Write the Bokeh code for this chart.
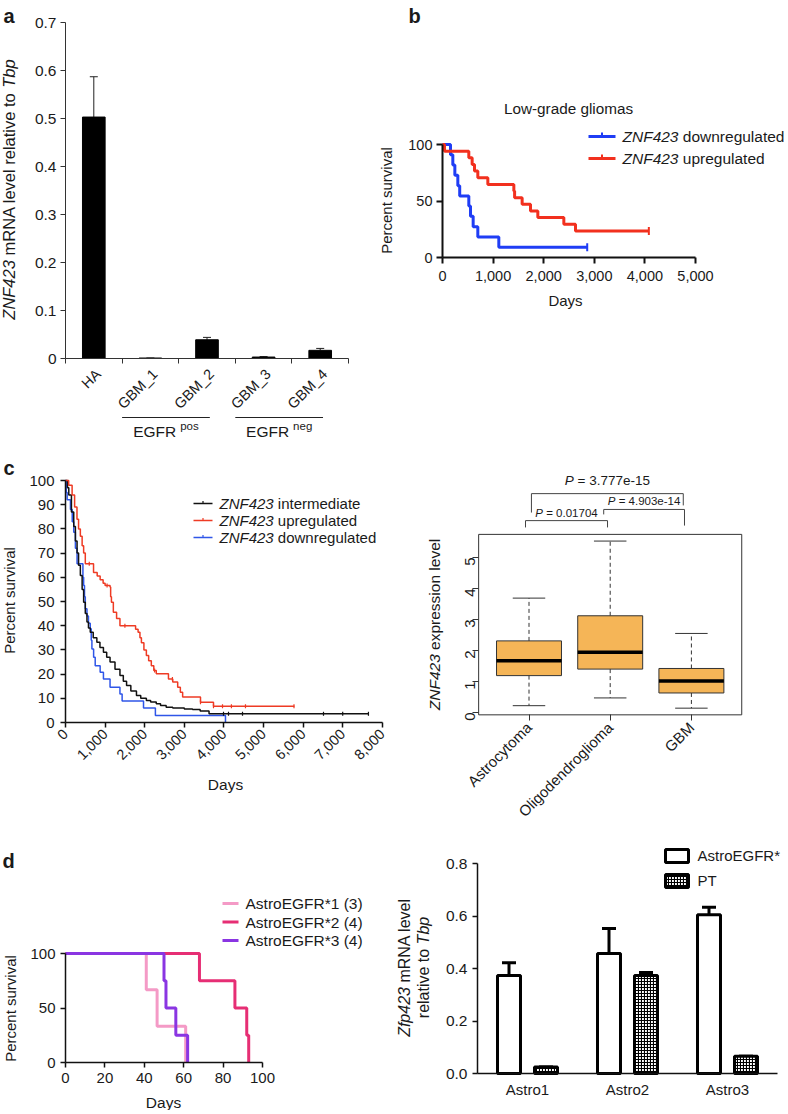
import math
from bokeh.plotting import figure
from bokeh.layouts import column, row
from bokeh.models import (Range1d, FixedTicker, Label, Whisker, TeeHead,
                          ColumnDataSource, NumeralTickFormatter)
from bokeh.embed import file_html
from bokeh.resources import INLINE

FONT = "Liberation Sans"
INK = "#1a1a1a"

# ===================== data =====================
# panel a
a_categories = ["HA", "GBM_1", "GBM_2", "GBM_3", "GBM_4"]
a_values = [0.503, 0.001, 0.039, 0.003, 0.017]
a_upper = [0.587, 0.001, 0.044, 0.004, 0.021]
a_yticks = [0, 0.1, 0.2, 0.3, 0.4, 0.5, 0.6, 0.7]
a_group_names = ["pos", "neg"]
a_group_members = [(1, 2), (3, 4)]

# panel b
b_down_days = [0, 158, 204, 244, 303, 340, 520, 553, 606, 698, 1113, 2860]
b_down_surv = [100, 90.9, 81.8, 72.7, 63.6, 54.5, 45.5, 36.4, 27.3, 18.2, 9.1, 9.1]
b_up_days = [0, 40, 520, 586, 632, 698, 896, 1410, 1425, 1574, 1739, 1884, 2398, 2628, 4078]
b_up_surv = [100, 94.1, 88.2, 82.4, 76.5, 70.6, 64.7, 58.8, 52.9, 47.1, 41.2, 35.3, 29.4, 23.5, 23.5]
b_series = ["downregulated", "upregulated"]
b_xticks = [0, 1000, 2000, 3000, 4000, 5000]
b_yticks = [0, 50, 100]

# panel c (survival)
c_mid_days = [0, 50, 83, 150, 208, 250, 292, 330, 375, 420, 458, 500, 542, 580, 625, 700, 792, 870, 958, 1040,
              1125, 1250, 1375, 1460, 1542, 1650, 1792, 1900, 2042, 2150, 2292, 2400, 2542, 2708, 3000, 3208, 3400,
              3625, 7650]
c_mid_surv = [100, 97, 94, 87, 81, 75, 70, 65, 60.7, 55, 49.7, 45, 41.5, 39, 37.3, 35, 33.2, 31, 29, 27,
              25, 22, 19.4, 17, 15.3, 13, 11.2, 10, 9.1, 8.5, 7.7, 7, 6.3, 6, 5.6, 5.4, 4.8, 3.6, 3.6]
c_up_days = [0, 80, 167, 230, 290, 330, 375, 420, 458, 500, 708, 800, 875, 950, 1000, 1125, 1140, 1160, 1208, 1290,
             1375, 1770, 1833, 1880, 1917, 1980, 2042, 2100, 2167, 2230, 2292, 2600, 2708, 2833, 2900, 2958, 3409,
             3737, 5780]
c_up_surv = [100, 98, 94, 89, 84, 80, 77, 73, 70, 65.6, 62, 60.5, 59, 57.5, 56.6, 56, 52, 49.7, 45.6, 43,
             40, 38.5, 37.3, 35, 33, 30, 27.7, 25.5, 23.5, 21.5, 20.1, 18, 16.7, 14.6, 12.5, 10.5, 8.4, 6.7, 6.7]
c_down_days = [0, 20, 42, 125, 170, 208, 250, 292, 440, 458, 480, 500, 542, 580, 625, 650, 667, 710, 750, 875,
               958, 1125, 1375, 1430, 1970, 2270, 4040]
c_down_surv = [100, 95, 92, 88, 83, 78.6, 72, 65.6, 60, 56.6, 52, 47, 44, 41, 38.7, 34, 30.4, 27, 23.5, 20.8,
               18, 14.6, 11.8, 8.9, 6.0, 2.9, 0]
c_up_censor = [600, 1050, 1500, 2250, 2700, 3409, 3737, 3965, 4190, 4545, 5770]
c_mid_censor = [3990, 4116, 4470, 6515, 7000, 7650]
c_series = ["intermediate", "upregulated", "downregulated"]
c_xticks = [0, 1000, 2000, 3000, 4000, 5000, 6000, 7000, 8000]
c_yticks = [0, 10, 20, 30, 40, 50, 60, 70, 80, 90, 100]

# panel c (box plot)
c_box_groups = ["Astrocytoma", "Oligodendroglioma", "GBM"]
c_box_low = [0.22, 0.47, 0.14]
c_box_q1 = [1.19, 1.40, 0.63]
c_box_med = [1.67, 1.94, 1.02]
c_box_q3 = [2.31, 3.12, 1.42]
c_box_high = [3.69, 5.53, 2.55]
c_box_yticks = [0, 1, 2, 3, 4, 5]
c_pairs = [(0, 2), (1, 2), (0, 1)]
c_pvalues = ["3.777e-15", "4.903e-14", "0.01704"]

# panel d (survival)
d_series = ["AstroEGFR*1 (3)", "AstroEGFR*2 (4)", "AstroEGFR*3 (4)"]
d1_days = [0, 41, 46.5, 61]
d1_surv = [100, 66.7, 33.3, 0]
d2_days = [0, 68, 86, 92, 93]
d2_surv = [100, 75, 50, 25, 0]
d3_days = [0, 50, 51, 56, 62]
d3_surv = [100, 75, 50, 25, 0]
d_xticks = [0, 20, 40, 60, 80, 100]
d_yticks = [0, 50, 100]

# panel d (bars)
d_cats = ["Astro1", "Astro2", "Astro3"]
d_egfr = [0.373, 0.457, 0.605]
d_egfr_upper = [0.422, 0.552, 0.633]
d_pt = [0.025, 0.373, 0.066]
d_pt_upper = [0.025, 0.385, 0.066]
d_bar_names = ["AstroEGFR*", "PT"]
d_bar_yticks = [0, 0.2, 0.4, 0.6, 0.8]

# ===================== helpers =====================
AW = {" ": 278, ".": 278, ",": 278, "-": 333, "=": 584, "*": 389, "(": 333, ")": 333, "_": 556,
      "A": 667, "B": 667, "C": 722, "D": 722, "E": 667, "F": 611, "G": 778, "H": 722, "I": 278, "J": 500,
      "K": 667, "L": 556, "M": 833, "N": 722, "O": 778, "P": 667, "Q": 778, "R": 722, "S": 667, "T": 611,
      "U": 722, "V": 667, "W": 944, "X": 667, "Y": 667, "Z": 611,
      "a": 556, "b": 556, "c": 500, "d": 556, "e": 556, "f": 278, "g": 556, "h": 556, "i": 222, "j": 222,
      "k": 500, "l": 222, "m": 833, "n": 556, "o": 556, "p": 556, "q": 556, "r": 333, "s": 500, "t": 278,
      "u": 556, "v": 500, "w": 722, "x": 500, "y": 500, "z": 500}


def tw(s, size):
    return sum(AW.get(ch, 556) for ch in s) * size / 1000.0


class Panel:
    """Figure whose frame fills its whole canvas; (page px -> data) mapping given by a reference point + scale."""

    def __init__(self, canvas, xmap, ymap):
        cx, cy, cw, ch = canvas
        pxr, xr, kx = xmap
        pyr, yr, ky = ymap
        self.cx, self.cy, self.cw, self.ch = cx, cy, cw, ch
        self.kx, self.ky = kx, ky
        self.x0 = xr - (pxr - cx) / kx
        self.y0 = yr - (cy + ch - pyr) / ky
        p = figure(width=cw, height=ch, title=None,
                   x_range=Range1d(self.x0, self.x0 + cw / kx), y_range=Range1d(self.y0, self.y0 + ch / ky),
                   min_border=0, min_border_left=0, min_border_right=0, min_border_top=0, min_border_bottom=0,
                   output_backend="svg", toolbar_location=None, outline_line_color=None,
                   background_fill_color="white", border_fill_color="white")
        p.xgrid.visible = False
        p.ygrid.visible = False
        self.p = p

    def X(self, px):
        return self.x0 + (px - self.cx) / self.kx

    def Y(self, py):
        return self.y0 + (self.cy + self.ch - py) / self.ky


def add_label(p, x, y, text, size, style="normal", align="left", baseline="middle", angle=0.0, color=INK):
    p.add_layout(Label(x=x, y=y, text=text, text_font=FONT, text_font_size=f"{size}px",
                       text_font_style=style, text_align=align, text_baseline=baseline,
                       angle=angle, text_color=color))


def add_rich(panel, pieces, px, py, size, vertical=False, anchor="center", color=INK):
    total = sum(tw(t, size) for t, _ in pieces)
    if vertical:
        cur = py + total / 2 if anchor == "center" else py
    else:
        cur = px - total / 2 if anchor == "center" else px
    for t, st in pieces:
        lead = len(t) - len(t.lstrip(" "))
        body = t.strip(" ")
        trail = (len(t) - len(t.rstrip(" "))) if body else 0
        adv = tw(" " * lead, size)
        cur = cur - adv if vertical else cur + adv
        if body:
            if vertical:
                add_label(panel.p, panel.X(px), panel.Y(cur), body, size, st, "left", "middle", math.pi / 2, color)
                cur -= tw(body, size)
            else:
                add_label(panel.p, panel.X(cur), panel.Y(py), body, size, st, "left", "middle", 0, color)
                cur += tw(body, size)
        adv = tw(" " * trail, size)
        cur = cur - adv if vertical else cur + adv


def style_axis(ax, loc, width=1.0, color=INK, tick_out=5, size=15, standoff=5):
    ax.fixed_location = loc
    ax.axis_line_width = width
    ax.axis_line_color = color
    ax.major_tick_line_width = width
    ax.major_tick_line_color = color
    ax.major_tick_out = tick_out
    ax.major_tick_in = 0
    ax.minor_tick_line_color = None
    ax.major_label_text_font = FONT
    ax.major_label_text_font_size = f"{size}px"
    ax.major_label_text_color = INK
    ax.major_label_standoff = standoff
    ax.axis_label = None


def surv_at(days, surv, t):
    v = surv[0]
    for d, s in zip(days, surv):
        if d <= t:
            v = s
    return v


# ===================== panel a =====================
A = Panel((0, 0, 375, 455), (65, 0, 56.6), (358, 0, 480))
pa = A.p
a_x = [i + 0.5 for i in range(len(a_categories))]
pa.vbar(x=a_x, top=a_values, width=0.4, fill_color="black", line_color="black")
a_src = ColumnDataSource(dict(x=a_x, lo=a_values, hi=a_upper))
pa.add_layout(Whisker(source=a_src, base="x", lower="lo", upper="hi", dimension="height",
                      lower_head=None, upper_head=TeeHead(size=8, line_width=1, line_color="#222"),
                      line_width=1, line_color="#222"))
ya = pa.yaxis[0]
style_axis(ya, 0, width=1, color="#333", tick_out=5, size=15.5, standoff=4)
ya.ticker = FixedTicker(ticks=a_yticks)
ya.formatter = NumeralTickFormatter(format="0.[0]")
ya.bounds = (a_yticks[0], a_yticks[-1])
xa = pa.xaxis[0]
style_axis(xa, 0, width=1, color="#333", tick_out=0, size=14.5, standoff=8)
a_label_pos = [v + 0.08 for v in a_x]
xa.ticker = FixedTicker(ticks=a_label_pos, minor_ticks=list(range(len(a_categories) + 1)))
xa.major_label_overrides = {x: c for x, c in zip(a_label_pos, a_categories)}
xa.minor_tick_out = 5
xa.minor_tick_in = 0
xa.minor_tick_line_color = "#333"
xa.major_label_orientation = math.pi / 4
xa.bounds = (0, len(a_categories))

add_label(pa, A.X(3), A.Y(15), "a", 20, "bold")
add_rich(A, [("ZNF423", "italic"), (" mRNA level relative to ", "normal"), ("Tbp", "italic")],
         8, 189, 16.5, vertical=True)
for name, (s, e) in zip(a_group_names, a_group_members):
    xl, xr = s, e + 0.55
    pa.segment(x0=[xl], y0=[A.Y(417)], x1=[xr], y1=[A.Y(417)], line_color="#222", line_width=1)
    mid = 65 + (xl + xr) / 2 * 56.6
    w1, w2 = tw("EGFR", 15.5), tw(name, 11.5)
    start = mid - (w1 + 4 + w2) / 2
    add_label(pa, A.X(start), A.Y(431), "EGFR", 15.5)
    add_label(pa, A.X(start + w1 + 4), A.Y(425), name, 11.5)

# ===================== panel b =====================
B = Panel((375, 0, 413, 455), (442, 0, 0.0506), (257, 0, 1.13))
pb = B.p
b_colors = ["#1f3df5", "#f2301e"]
pb.step(b_down_days, b_down_surv, mode="after", line_color=b_colors[0], line_width=3)
pb.step(b_up_days, b_up_surv, mode="after", line_color=b_colors[1], line_width=3)
pb.scatter([b_down_days[-1]], [b_down_surv[-1]], marker="dash", angle=math.pi / 2, size=8,
           line_color=b_colors[0], line_width=2)
pb.scatter([b_up_days[-1]], [b_up_surv[-1]], marker="dash", angle=math.pi / 2, size=8,
           line_color=b_colors[1], line_width=2)
xb, yb = pb.xaxis[0], pb.yaxis[0]
style_axis(xb, 0, width=2, color="#111", tick_out=6, size=14.5, standoff=7)
xb.ticker = FixedTicker(ticks=b_xticks)
xb.formatter = NumeralTickFormatter(format="0,0")
xb.bounds = (b_xticks[0], b_xticks[-1])
style_axis(yb, 0, width=2, color="#111", tick_out=6, size=14.5, standoff=4)
yb.ticker = FixedTicker(ticks=b_yticks)
yb.bounds = (b_yticks[0], b_yticks[-1])
add_label(pb, B.X(408), B.Y(15), "b", 20, "bold")
add_label(pb, B.X(568), B.Y(108), "Low-grade gliomas", 15.3, align="center")
for i, (name, col) in enumerate(zip(b_series, b_colors)):
    ly = 136 + 22 * i
    pb.segment(x0=B.X(588), y0=B.Y(ly), x1=B.X(615), y1=B.Y(ly), line_color=col, line_width=3)
    pb.segment(x0=B.X(601.5), y0=B.Y(ly), x1=B.X(601.5), y1=B.Y(ly - 4), line_color=col, line_width=2)
    add_rich(B, [("ZNF423", "italic"), (" " + name, "normal")], 622, ly, 15.5, anchor="left")
add_label(pb, B.X(386), B.Y(200), "Percent survival", 15, align="center", angle=math.pi / 2)
add_label(pb, B.X(565), B.Y(300), "Days", 15, align="center")

# ===================== panel c (survival) =====================
C1 = Panel((0, 455, 390, 380), (65, 0, 0.0396), (722, 0, 2.42))
pc = C1.p
c_colors = ["#111111", "#ee3b24", "#2f56e8"]
pc.step(c_down_days, c_down_surv, mode="after", line_color=c_colors[2], line_width=1.5)
pc.step(c_mid_days, c_mid_surv, mode="after", line_color=c_colors[0], line_width=1.5)
pc.step(c_up_days, c_up_surv, mode="after", line_color=c_colors[1], line_width=1.5)
pc.scatter(c_up_censor, [surv_at(c_up_days, c_up_surv, t) for t in c_up_censor], marker="dash",
           angle=math.pi / 2, size=4, line_color=c_colors[1], line_width=1.2)
pc.scatter(c_mid_censor, [surv_at(c_mid_days, c_mid_surv, t) for t in c_mid_censor], marker="dash",
           angle=math.pi / 2, size=4, line_color=c_colors[0], line_width=1.2)
xc, yc = pc.xaxis[0], pc.yaxis[0]
style_axis(xc, 0, width=1.5, color="#111", tick_out=5, size=14.5, standoff=4)
xc.ticker = FixedTicker(ticks=c_xticks)
xc.formatter = NumeralTickFormatter(format="0,0")
xc.bounds = (c_xticks[0], c_xticks[-1])
xc.major_label_orientation = math.pi / 4
style_axis(yc, 0, width=1.5, color="#111", tick_out=5, size=15, standoff=6)
yc.ticker = FixedTicker(ticks=c_yticks)
yc.bounds = (c_yticks[0], c_yticks[-1])
add_label(pc, C1.X(3), C1.Y(467), "c", 20, "bold")
for i, (name, col) in enumerate(zip(c_series, c_colors)):
    ly = 503 + 17 * i
    pc.segment(x0=C1.X(193), y0=C1.Y(ly), x1=C1.X(212), y1=C1.Y(ly), line_color=col, line_width=1.5)
    pc.segment(x0=C1.X(202.5), y0=C1.Y(ly), x1=C1.X(202.5), y1=C1.Y(ly - 2.5), line_color=col, line_width=1.2)
    add_rich(C1, [("ZNF423", "italic"), (" " + name, "normal")], 219, ly, 15, anchor="left")
add_label(pc, C1.X(9), C1.Y(600), "Percent survival", 15, align="center", angle=math.pi / 2)
add_label(pc, C1.X(225), C1.Y(784), "Days", 15.5, align="center")

# ===================== panel c (box plot) =====================
C2 = Panel((390, 455, 398, 380), (528.5, 1, 81.2), (712, 0, 31.0))
pq = C2.p
g = [i + 1 for i in range(len(c_box_groups))]
span = max(c_box_high) - min(c_box_low)
box_l, box_r = 0.5 - 0.04 * len(g), len(g) + 0.5 + 0.04 * len(g)
box_b, box_t = min(c_box_low) - 0.04 * span, max(c_box_high) + 0.04 * span
pq.quad(left=[box_l], right=[box_r], bottom=[box_b], top=[box_t],
        fill_color=None, line_color="#333", line_width=1)
pq.segment(x0=g, y0=c_box_q3, x1=g, y1=c_box_high, line_color="#333", line_width=1, line_dash="4 3")
pq.segment(x0=g, y0=c_box_q1, x1=g, y1=c_box_low, line_color="#333", line_width=1, line_dash="4 3")
pq.segment(x0=[v - 0.2 for v in g], y0=c_box_high, x1=[v + 0.2 for v in g], y1=c_box_high,
           line_color="#333", line_width=1)
pq.segment(x0=[v - 0.2 for v in g], y0=c_box_low, x1=[v + 0.2 for v in g], y1=c_box_low,
           line_color="#333", line_width=1)
pq.quad(left=[v - 0.4 for v in g], right=[v + 0.4 for v in g], bottom=c_box_q1, top=c_box_q3,
        fill_color="#f5b557", line_color="#333", line_width=1)
pq.segment(x0=[v - 0.4 for v in g], y0=c_box_med, x1=[v + 0.4 for v in g], y1=c_box_med,
           line_color="black", line_width=3.5)
xq, yq = pq.xaxis[0], pq.yaxis[0]
style_axis(xq, box_b, width=1, color="#333", tick_out=6, size=15, standoff=4)
xq.axis_line_color = None
xq.ticker = FixedTicker(ticks=g)
xq.major_label_overrides = {v: n for v, n in zip(g, c_box_groups)}
xq.major_label_orientation = math.pi / 4
style_axis(yq, box_l, width=1, color="#333", tick_out=6, size=15, standoff=3)
yq.axis_line_color = None
yq.ticker = FixedTicker(ticks=c_box_yticks)
yq.major_label_orientation = math.pi / 2
# significance brackets
br_top = [7.06, 6.55, 6.19]
br_leg_l = [6.45, 6.39, 5.97]
br_leg_r = [6.68, 6.03, 5.97]
br_dx_l = [0.03, -0.08, -0.043]
br_dx_r = [-0.10, -0.085, -0.033]
p_size = [13.5, 11.5, 11.5]
p_gap = [0.42, 0.26, 0.26]
for k, ((i, j), pv) in enumerate(zip(c_pairs, c_pvalues)):
    xl, xr = g[i] + br_dx_l[k], g[j] + br_dx_r[k]
    pq.multi_line(xs=[[xl, xl, xr, xr]], ys=[[br_leg_l[k], br_top[k], br_top[k], br_leg_r[k]]],
                  line_color="#444", line_width=1)
    mx = 528.5 + ((xl + xr) / 2 - 1) * 81.2
    my = 712 - (br_top[k] + p_gap[k]) * 31.0
    add_rich(C2, [("P", "italic"), (" = " + pv, "normal")], mx, my, p_size[k])
add_rich(C2, [("ZNF423", "italic"), (" expression level", "normal")], 434, 624, 15.5, vertical=True)

# ===================== panel d (survival) =====================
D1 = Panel((0, 835, 390, 275), (65, 0, 1.97), (1062, 0, 1.09))
pd = D1.p
d_colors = ["#f49ac6", "#e62e74", "#8a35e2"]
for days, surv, col in zip([d1_days, d2_days, d3_days], [d1_surv, d2_surv, d3_surv], d_colors):
    pd.step(days, surv, mode="after", line_color=col, line_width=3)
xd, yd = pd.xaxis[0], pd.yaxis[0]
style_axis(xd, 0, width=1.5, color="#111", tick_out=5, size=15, standoff=5)
xd.ticker = FixedTicker(ticks=d_xticks)
xd.bounds = (d_xticks[0], d_xticks[-1])
style_axis(yd, 0, width=1.5, color="#111", tick_out=5, size=15, standoff=5)
yd.ticker = FixedTicker(ticks=d_yticks)
yd.bounds = (d_yticks[0], d_yticks[-1])
add_label(pd, D1.X(2), D1.Y(860), "d", 20, "bold")
for i, (name, col) in enumerate(zip(d_series, d_colors)):
    ly = 903 + 18.5 * i
    pd.segment(x0=D1.X(222), y0=D1.Y(ly), x1=D1.X(238), y1=D1.Y(ly), line_color=col, line_width=3)
    add_label(pd, D1.X(245), D1.Y(ly), name, 15.5)
add_label(pd, D1.X(10), D1.Y(1008), "Percent survival", 15, align="center", angle=math.pi / 2)
add_label(pd, D1.X(163), D1.Y(1102), "Days", 15.5, align="center")

# ===================== panel d (bars) =====================
D2 = Panel((390, 835, 398, 275), (477, 0, 100), (1073, 0, 262.5))
pe = D2.p
d_x = [i + 0.5 for i in range(len(d_cats))]
x_egfr = [v - 0.185 for v in d_x]
x_pt = [v + 0.185 for v in d_x]
pe.vbar(x=x_egfr, top=d_egfr, width=0.23, fill_color="white", line_color="black", line_width=3)
pe.vbar(x=x_pt, top=d_pt, width=0.23, fill_color="white", line_color="black", line_width=3,
        hatch_pattern="cross", hatch_scale=3, hatch_weight=1.2, hatch_color="black")
for xs, lo, hi in [(x_egfr, d_egfr, d_egfr_upper), (x_pt, d_pt, d_pt_upper)]:
    src = ColumnDataSource(dict(x=xs, lo=lo, hi=hi))
    pe.add_layout(Whisker(source=src, base="x", lower="lo", upper="hi", dimension="height",
                          lower_head=None, upper_head=TeeHead(size=14, line_width=3, line_color="black"),
                          line_width=3, line_color="black"))
xe, ye = pe.xaxis[0], pe.yaxis[0]
style_axis(xe, 0, width=1.5, color="#111", tick_out=0, size=15, standoff=7)
xe.ticker = FixedTicker(ticks=d_x)
xe.major_label_overrides = {v: n for v, n in zip(d_x, d_cats)}
xe.bounds = (0, len(d_cats))
style_axis(ye, 0, width=1.5, color="#111", tick_out=5, size=15.5, standoff=5)
ye.ticker = FixedTicker(ticks=d_bar_yticks)
ye.formatter = NumeralTickFormatter(format="0.0")
ye.bounds = (d_bar_yticks[0], d_bar_yticks[-1])
# legend
pe.quad(left=[D2.X(665)], right=[D2.X(688)], top=[D2.Y(849)], bottom=[D2.Y(862)],
        fill_color="white", line_color="black", line_width=3)
pe.quad(left=[D2.X(665)], right=[D2.X(688)], top=[D2.Y(874)], bottom=[D2.Y(887)],
        fill_color="white", line_color="black", line_width=3,
        hatch_pattern="cross", hatch_scale=3, hatch_weight=1.2, hatch_color="black")
add_label(pe, D2.X(697), D2.Y(855), d_bar_names[0], 15)
add_label(pe, D2.X(697), D2.Y(880), d_bar_names[1], 15)
add_rich(D2, [("Zfp423", "italic"), (" mRNA level", "normal")], 404, 967, 16, vertical=True)
add_rich(D2, [("relative to ", "normal"), ("Tbp", "italic")], 423, 967, 16, vertical=True)

layout = column(row(pa, pb), row(pc, pq), row(pd, pe))
open("out.html", "w").write(file_html(layout, INLINE, "figure"))
